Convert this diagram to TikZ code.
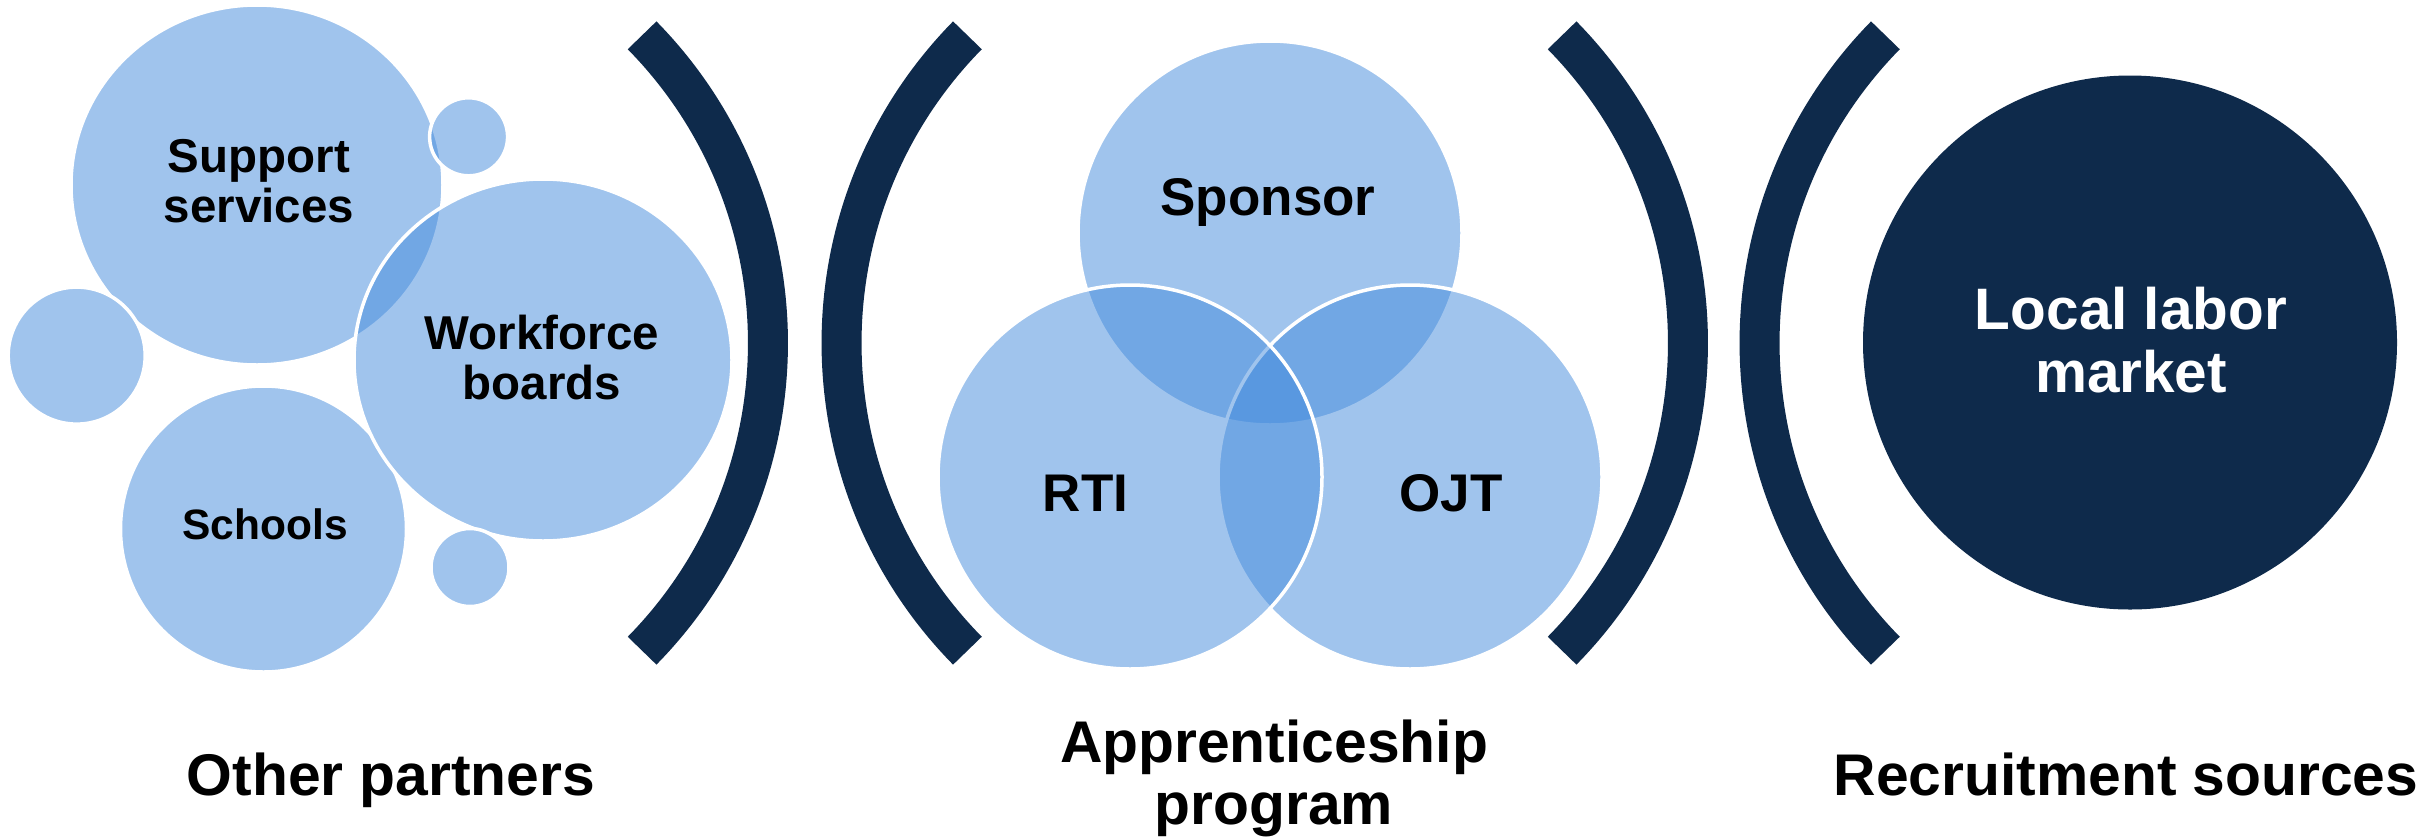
\documentclass[tikz,border=0pt]{standalone}
\usepackage{fontspec}
\setmainfont{Liberation Sans}
\usetikzlibrary{shapes.geometric,calc}

\definecolor{navy}{RGB}{14,42,75}
\definecolor{bubbleblue}{RGB}{67,139,221}

% two centred lines whose baseline is the baseline of the first line
\newcommand\twolines[2]{\vtop{\halign{\hfil##\hfil\cr#1\cr#2\cr}}}

\begin{document}
\begin{tikzpicture}[x=1pt,y=-1pt,
  bubble/.style={circle, inner sep=0pt, fill=bubbleblue, fill opacity=0.5,
                 draw=white, line width=3.5pt},
  oval/.style={ellipse, inner sep=0pt, fill=bubbleblue, fill opacity=0.5,
               draw=white, line width=3.5pt},
  bracket/.style={draw=navy, line width=40pt, line cap=butt},
  tagbase/.style={anchor=base, inner sep=0pt, text=black},
  smalltag/.style={tagbase, font=\bfseries\fontsize{47.5}{50.5}\selectfont},
  schooltag/.style={tagbase, font=\bfseries\fontsize{42.5}{45}\selectfont},
  venntag/.style={tagbase, font=\bfseries\fontsize{53}{57}\selectfont},
  localtag/.style={tagbase, text=white, font=\bfseries\fontsize{58.5}{63}\selectfont},
  captag/.style={tagbase, font=\bfseries\fontsize{58.8}{61.5}\selectfont}
]
\fill[white] (0,0) rectangle (2425,836);
\useasboundingbox (0,0) rectangle (2425,836);

% ---- other partners: bubble cluster ----
\node[oval, minimum width=372pt, minimum height=360pt] (support) at (257,185) {};
\node[bubble, minimum size=286pt] (schools) at (263.5,529) {};
\node[oval, minimum width=378pt, minimum height=362pt] (workforce) at (543,360) {};
\node[bubble, minimum size=137pt] (leftdot) at (76.7,355.6) {};
\node[bubble, minimum size=78pt] (topdot) at (468.6,136.8) {};
\node[bubble, minimum size=78pt] (lowdot) at (470,567.5) {};

\node[smalltag] (support-text) at (259,172) {\twolines{Support}{services}};
\node[smalltag] (workforce-text) at (542,349) {\twolines{Workforce}{boards}};
\node[schooltag] (schools-text) at (265,539.4) {Schools};

% ---- apprenticeship program: three-set Venn ----
\node[bubble, minimum size=384pt] (sponsor) at (1270,233) {};
\node[bubble, minimum size=384pt] (ojt) at (1410,477) {};
\node[bubble, minimum size=384pt] (rti) at (1130,477) {};

\node[venntag] (sponsor-text) at (1268,215) {Sponsor};
\node[venntag] (rti-text) at (1085.6,511) {RTI};
\node[venntag] (ojt-text) at (1451,511) {OJT};

% ---- recruitment sources ----
\node[circle, inner sep=0pt, fill=navy, minimum size=534pt] (local) at (2130,342.5) {};
\node[localtag] (local-text) at (2131,329) {\twolines{Local labor}{market}};

% ---- parentheses around the middle group and the right group ----
\coordinate (b1) at (329,343);
\coordinate (b2) at (1280.5,343);
\coordinate (b3) at (1249,343);
\coordinate (b4) at (2198.5,343);
\draw[bracket] ($(b1)+(-44.5:439)$) arc[start angle=-44.5, end angle=44.5, radius=439];
\draw[bracket] ($(b2)+(224.5:439)$) arc[start angle=224.5, end angle=135.5, radius=439];
\draw[bracket] ($(b3)+(-44.5:439)$) arc[start angle=-44.5, end angle=44.5, radius=439];
\draw[bracket] ($(b4)+(224.5:439)$) arc[start angle=224.5, end angle=135.5, radius=439];

% ---- captions ----
\node[captag] (partners-cap) at (391,795) {Other partners};
\node[captag] (program-cap) at (1274,762.7) {\twolines{Apprenticeship}{program}};
\node[captag] (sources-cap) at (2126,795) {Recruitment sources};
\end{tikzpicture}
\end{document}
